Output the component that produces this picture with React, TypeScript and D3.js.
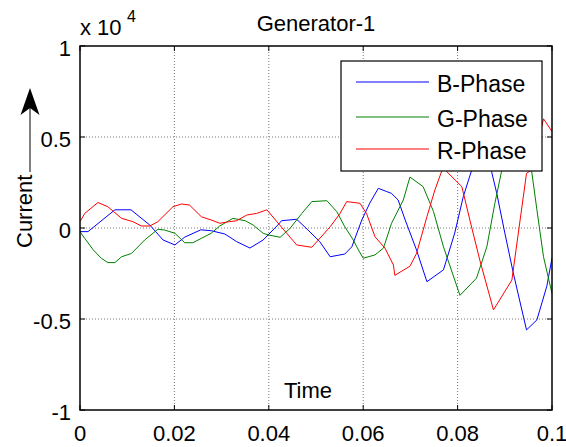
import React from 'react';
import * as d3 from 'd3';

// time in s, current in units of x10^4
const bPhase: [number, number][] = [
  [0, -0.02], [0.0017, -0.02], [0.0074, 0.1], [0.0108, 0.1], [0.0148, 0.016], [0.0176, -0.066],
  [0.0201, -0.093], [0.0222, -0.05], [0.0256, -0.01], [0.0278, -0.015], [0.0307, -0.033],
  [0.0332, -0.075], [0.036, -0.11], [0.0388, -0.066], [0.0419, 0.016], [0.0427, 0.04],
  [0.0459, 0.048], [0.0483, -0.011], [0.0508, -0.075], [0.053, -0.158], [0.0561, -0.143],
  [0.0576, -0.103], [0.0597, 0.044], [0.0614, 0.137], [0.0632, 0.218], [0.065, 0.2],
  [0.066, 0.19], [0.0674, 0.154], [0.0689, 0.044], [0.0713, -0.121], [0.0735, -0.295],
  [0.077, -0.23], [0.0794, -0.027], [0.0812, 0.172], [0.083, 0.319], [0.0852, 0.48],
  [0.0872, 0.31], [0.0883, 0.19], [0.09, -0.027], [0.0918, -0.247], [0.0946, -0.56],
  [0.0968, -0.505], [0.0989, -0.32], [0.1, -0.165]
];

const gPhase: [number, number][] = [
  [0, -0.02], [0.001, -0.057], [0.0028, -0.12], [0.0045, -0.166], [0.0059, -0.19], [0.0074, -0.19],
  [0.0088, -0.158], [0.0109, -0.14], [0.0137, -0.066], [0.0165, -0.007], [0.0179, -0.011],
  [0.0201, -0.029], [0.0222, -0.081], [0.0239, -0.081], [0.0257, -0.057], [0.0278, -0.029],
  [0.0296, 0.011], [0.0324, 0.053], [0.035, 0.04], [0.0367, 0.016], [0.0388, -0.029],
  [0.0399, -0.038], [0.0424, -0.051], [0.0445, -0.002], [0.047, 0.08], [0.0491, 0.145],
  [0.0523, 0.15], [0.0544, 0.09], [0.0561, 0.007], [0.0579, -0.066], [0.059, -0.121],
  [0.06, -0.166], [0.0625, -0.148], [0.0643, -0.11], [0.066, 0.026], [0.0685, 0.154],
  [0.0699, 0.28], [0.0727, 0.227], [0.0749, 0.09], [0.077, -0.103], [0.0805, -0.37],
  [0.084, -0.276], [0.0862, -0.103], [0.0879, 0.136], [0.0893, 0.31], [0.0924, 0.57],
  [0.0957, 0.31], [0.0968, 0.1], [0.0982, -0.158], [0.1, -0.36]
];

const rPhase: [number, number][] = [
  [0, 0.035], [0.001, 0.08], [0.0038, 0.14], [0.0059, 0.117], [0.0088, 0.053], [0.0112, 0.035],
  [0.013, 0.011], [0.0148, 0.011], [0.0165, 0.035], [0.0197, 0.117], [0.0215, 0.132],
  [0.0232, 0.126], [0.0257, 0.062], [0.0278, 0.044], [0.0296, 0.026], [0.0317, 0.035],
  [0.0332, 0.04], [0.0353, 0.071], [0.0374, 0.08], [0.0396, 0.1], [0.0417, 0.035],
  [0.0438, -0.029], [0.0459, -0.093], [0.0491, -0.106], [0.0505, -0.066], [0.053, 0.007],
  [0.0551, 0.08], [0.0565, 0.145], [0.0593, 0.136], [0.0607, 0.08], [0.0625, -0.048],
  [0.0646, -0.11], [0.0664, -0.203], [0.0667, -0.26], [0.0699, -0.21], [0.0713, -0.14],
  [0.0735, 0.062], [0.0752, 0.21], [0.0766, 0.31], [0.0771, 0.37], [0.0777, 0.31],
  [0.0809, 0.227], [0.0826, 0.044], [0.0847, -0.176], [0.0876, -0.45], [0.0915, -0.286],
  [0.0946, 0.3], [0.0957, 0.32], [0.0982, 0.6], [0.1, 0.53]
];

const xTicks = [0, 0.02, 0.04, 0.06, 0.08, 0.1];
const xTickLabels = ['0', '0.02', '0.04', '0.06', '0.08', '0.1'];
const yTicks = [-1, -0.5, 0, 0.5, 1];
const yTickLabels = ['-1', '-0.5', '0', '0.5', '1'];
const seriesNames = ['B-Phase', 'G-Phase', 'R-Phase'];
const seriesColors = ['#0000ff', '#008000', '#ff0000'];

const W = 566, H = 447;
const L = 80, R = 552, T = 46, B = 410;
const font = 'Arial, "Liberation Sans", sans-serif';

export default function App() {
  const x = d3.scaleLinear().domain([0, 0.1]).range([L, R]);
  const y = d3.scaleLinear().domain([-1, 1]).range([B, T]);
  const line = d3.line<[number, number]>().x(d => x(d[0])).y(d => y(d[1]));
  const series = [bPhase, gPhase, rPhase];

  return (
    <svg width={W} height={H} style={{ position: 'absolute', left: 0, top: 0, background: '#fff' }}
      fontFamily={font}>
      <rect width={W} height={H} fill="#fff" />
      <defs>
        <clipPath id="plotclip">
          <rect x={L} y={T} width={R - L} height={B - T} />
        </clipPath>
      </defs>
      {/* grid */}
      {xTicks.slice(1, -1).map(t => (
        <line key={'gx' + t} x1={x(t)} x2={x(t)} y1={T} y2={B} stroke="#555" strokeWidth={0.8} strokeDasharray="1 2" />
      ))}
      {yTicks.slice(1, -1).map(t => (
        <line key={'gy' + t} x1={L} x2={R} y1={y(t)} y2={y(t)} stroke="#555" strokeWidth={0.8} strokeDasharray="1 2" />
      ))}
      {/* data */}
      <g clipPath="url(#plotclip)">
        {series.map((s, i) => (
          <path key={i} d={line(s) || ''} fill="none" stroke={seriesColors[i]} strokeWidth={1} />
        ))}
      </g>
      {/* box + ticks */}
      <rect x={L} y={T} width={R - L} height={B - T} fill="none" stroke="#000" strokeWidth={1.5} />
      {xTicks.map(t => (
        <g key={'tx' + t}>
          <line x1={x(t)} x2={x(t)} y1={B} y2={B - 5} stroke="#000" />
          <line x1={x(t)} x2={x(t)} y1={T} y2={T + 5} stroke="#000" />
        </g>
      ))}
      {yTicks.map(t => (
        <g key={'ty' + t}>
          <line x1={L} x2={L + 5} y1={y(t)} y2={y(t)} stroke="#000" />
          <line x1={R} x2={R - 5} y1={y(t)} y2={y(t)} stroke="#000" />
        </g>
      ))}
      {xTicks.map((t, i) => (
        <text key={'lx' + t} x={x(t)} y={441} fontSize={22} textAnchor="middle">{xTickLabels[i]}</text>
      ))}
      {yTicks.map((t, i) => (
        <text key={'ly' + t} x={71} y={y(t) + 10} fontSize={22} textAnchor="end">{yTickLabels[i]}</text>
      ))}
      {/* exponent */}
      <text x={80} y={35} fontSize={22}>x 10</text>
      <text x={127} y={22} fontSize={16}>4</text>
      {/* title */}
      <text x={(L + R) / 2} y={31} fontSize={22} textAnchor="middle">Generator-1</text>
      {/* annotations */}
      <text x={308} y={398} fontSize={22} textAnchor="middle">Time</text>
      <text transform="translate(32,248) rotate(-90)" fontSize={22}>Current</text>
      <line x1={30} x2={30} y1={172} y2={108} stroke="#000" strokeWidth={1} />
      <path d="M30,88 L39.5,115 L30,108 L20.5,115 Z" fill="#000" />
      {/* legend */}
      <rect x={341} y={61} width={201} height={110} fill="#fff" stroke="#000" strokeWidth={1.2} />
      {seriesNames.map((n, i) => {
        const ly = [82, 117, 149][i];
        return (
          <g key={n}>
            <line x1={356} x2={429} y1={ly} y2={ly} stroke={seriesColors[i]} strokeWidth={1} />
            <text x={437} y={ly + 10} fontSize={23}>{n}</text>
          </g>
        );
      })}
    </svg>
  );
}
